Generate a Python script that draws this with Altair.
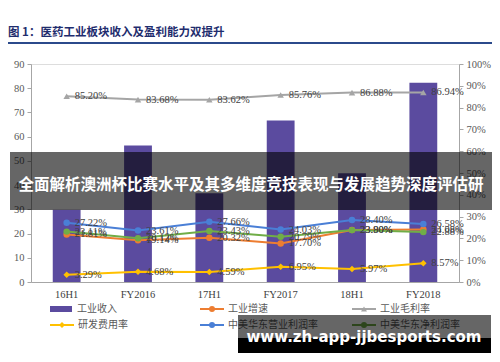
import altair as alt
import pandas as pd

# ---------------- data ----------------
categories = ["16H1", "FY2016", "17H1", "FY2017", "18H1", "FY2018"]
revenue = [29.8, 56.4, 36.6, 66.7, 44.9, 82.3]

series_names = ["工业增速", "工业毛利率", "研发费用率", "中美华东营业利润率", "中美华东净利润率"]
industry_growth = [21.81, 19.14, 20.32, 17.70, 23.90, 24.08]
gross_margin = [85.20, 83.68, 83.62, 85.76, 86.88, 86.94]
rd_ratio = [3.29, 4.68, 4.59, 6.95, 5.97, 8.57]
op_margin = [27.22, 23.61, 27.66, 24.03, 28.40, 26.58]
net_margin = [23.11, 20.12, 23.43, 20.79, 23.80, 22.88]

series_colors = ["#ed7d31", "#a5a5a5", "#ffc000", "#4a7fd6", "#70ad47"]
series_shapes = ["circle", "triangle-up", "diamond", "circle", "circle"]
bar_color = "#5b4b9f"

title_text = "图 1：医药工业板块收入及盈利能力双提升"
banner_text = "全面解析澳洲杯比赛水平及其多维度竞技表现与发展趋势深度评估研"
watermark_text = "www.zh-app-jjbesports.com"

legend_names = ["工业收入", "工业增速", "工业毛利率", "研发费用率", "中美华东营业利润率", "中美华东净利润率"]

# ---------------- tables ----------------
rows = []
for name, vals in zip(series_names, [industry_growth, gross_margin, rd_ratio, op_margin, net_margin]):
    for c, v in zip(categories, vals):
        rows.append({"cat": c, "series": name, "value": v, "label": f"{v:.2f}%"})
lines_df = pd.DataFrame(rows)
bar_df = pd.DataFrame({"cat": categories, "revenue": revenue})

W, H = 428, 218
SERIF = "Liberation Serif"
CJK = "Noto Sans CJK SC"

xscale = alt.Scale(domain=categories, paddingInner=0.61, paddingOuter=0.305)
x_enc = alt.X(
    "cat:N", scale=xscale, sort=categories,
    axis=alt.Axis(title=None, labelAngle=0, ticks=False, labelPadding=7,
                  labelFont=SERIF, labelFontSize=10.5, labelColor="#404040",
                  domainColor="#a6a6a6", grid=False),
)

bars = alt.Chart(bar_df).mark_bar(color=bar_color).encode(
    x=x_enc,
    y=alt.Y("revenue:Q", scale=alt.Scale(domain=[0, 90]),
            axis=alt.Axis(title=None, values=list(range(0, 91, 10)), grid=False,
                          tickSize=4, tickColor="#a6a6a6", domainColor="#a6a6a6",
                          labelFont=SERIF, labelFontSize=10.5, labelColor="#595959",
                          labelPadding=3)),
)

color_enc = alt.Color("series:N", scale=alt.Scale(domain=series_names, range=series_colors), legend=None)
y_right = alt.Y("value:Q", scale=alt.Scale(domain=[0, 100]),
                axis=alt.Axis(orient="right", title=None, values=list(range(0, 101, 10)),
                              labelExpr="datum.value + '%'", grid=False, tickSize=4,
                              tickColor="#a6a6a6", domainColor="#a6a6a6",
                              labelFont=SERIF, labelFontSize=10.5, labelColor="#595959",
                              labelPadding=3))

base = alt.Chart(lines_df)
lines = base.mark_line(strokeWidth=2).encode(x=x_enc, y=y_right, color=color_enc)
points = base.mark_point(filled=True, size=42, opacity=1).encode(
    x=x_enc, y=y_right, color=color_enc,
    shape=alt.Shape("series:N", scale=alt.Scale(domain=series_names, range=series_shapes), legend=None),
)
labels = base.mark_text(align="left", baseline="middle", dx=8, font=SERIF, fontSize=10.5,
                        color="#404040").encode(x=x_enc, y=y_right, text="label:N")
lines_layer = alt.layer(lines, points, labels)

one = pd.DataFrame({"k": [0]})

def txt(text, x, y, **kw):
    return alt.Chart(pd.DataFrame({"t": [text]})).mark_text(**kw).encode(
        x=alt.value(x), y=alt.value(y), text="t:N")

def rect(x, x2, y, y2, **kw):
    return alt.Chart(one).mark_rect(**kw).encode(
        x=alt.value(x), x2=alt.value(x2), y=alt.value(y), y2=alt.value(y2))

decor = []
# title + rule
decor.append(txt(title_text, -23, -31, align="left", baseline="middle", font=CJK,
                 fontSize=11.5, fontWeight="bold", color="#1f2d6e"))
decor.append(alt.Chart(one).mark_rule(color="#2b4a8b", strokeWidth=2).encode(
    x=alt.value(-23), x2=alt.value(461), y=alt.value(-21)))

# legend
col_x = [19, 169, 321]
row_y = [245, 261]
legend_colors = [bar_color] + series_colors
legend_shapes = [None] + series_shapes
for i, name in enumerate(legend_names):
    cx = col_x[i % 3]
    cy = row_y[i // 3]
    if i == 0:
        decor.append(rect(cx, cx + 22, cy - 3, cy + 3, color=bar_color))
        tx = cx + 27
    else:
        col = series_colors[i - 1]
        decor.append(alt.Chart(one).mark_rule(color=col, strokeWidth=2).encode(
            x=alt.value(cx), x2=alt.value(cx + 24), y=alt.value(cy)))
        decor.append(alt.Chart(one).mark_point(filled=True, size=36, opacity=1, color=col,
                                               shape=series_shapes[i - 1]).encode(
            x=alt.value(cx + 12), y=alt.value(cy)))
        tx = cx + 28
    decor.append(txt(name, tx, cy, align="left", baseline="middle", font=CJK,
                     fontSize=10, color="#595959"))

# banner overlay
decor.append(rect(-21, 462, 88, 146, color="#000000", opacity=0.6))
decor.append(txt(banner_text, 220, 121, align="center", baseline="middle", font=CJK,
                 fontSize=15.5, fontWeight="bold", color="#ffffff"))

# watermark overlay
decor.append(rect(207, 460, 251, 274, color="#000000", opacity=0.6))
decor.append(rect(207, 460, 274, 289, color="#000000", opacity=1))
decor.append(txt(watermark_text, 333, 273, align="center", baseline="middle",
                 font="DejaVu Sans", fontSize=15, fontWeight="bold", color="#ffffff"))

chart = alt.layer(bars, lines_layer, *decor).resolve_scale(y="independent").properties(
    width=W, height=H,
    padding={"left": 23, "top": 56, "right": 33, "bottom": 72},
    autosize=alt.AutoSizeParams(type="none"),
).configure_view(stroke=None).configure(background="#ffffff")

chart.save("out.html", embed_options={"renderer": "svg", "actions": False})
